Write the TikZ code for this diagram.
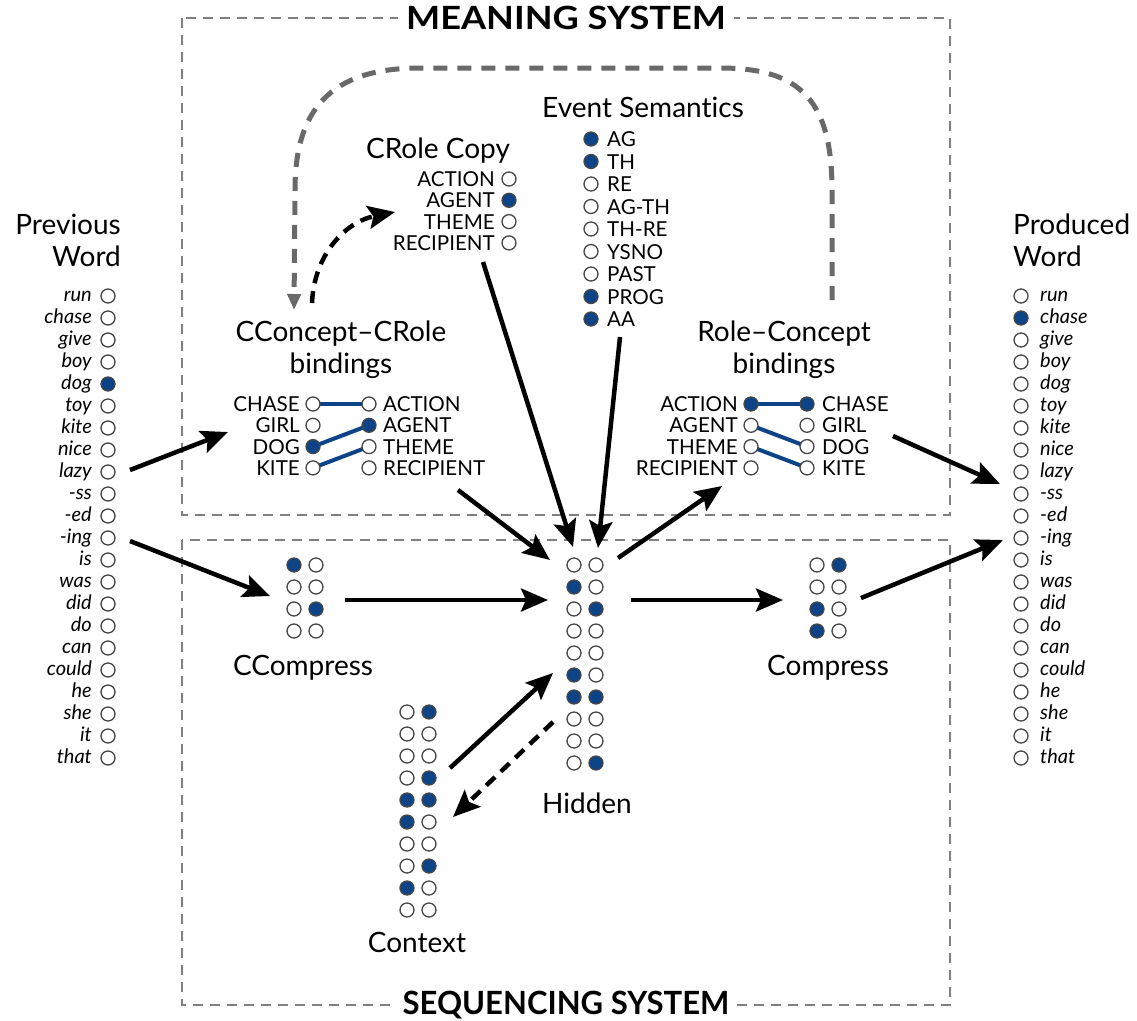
\documentclass[tikz,border=0pt]{standalone}
\usepackage{fontspec}
\setmainfont{Lato}[Ligatures=NoCommon]
\usetikzlibrary{arrows.meta}
\definecolor{unitblue}{RGB}{12,68,135}
\definecolor{boxgray}{RGB}{128,128,128}
\definecolor{loopgray}{RGB}{105,105,105}
\tikzset{
 unit/.style={circle,draw=black!72,line width=1.3pt,fill=white,minimum size=14pt,inner sep=0pt},
 on/.style={fill=unitblue},
 off/.style={},
 lbl/.style={inner sep=0pt,font=\fontsize{20.6}{24}\selectfont},
 wrd/.style={inner sep=0pt,font=\fontsize{20}{22}\selectfont\itshape},
 ttl/.style={inner sep=0pt,font=\fontsize{28}{32}\selectfont},
 sys/.style={draw=boxgray,line width=1.2pt,dash pattern=on 10pt off 7pt},
 systitle/.style={fill=white,inner xsep=8pt,inner ysep=1pt,font=\fontsize{32}{34}\selectfont\bfseries},
 bind/.style={draw=unitblue,line width=4pt},
 flow/.style={draw=black,line width=4.5pt,-{Stealth[length=27pt,width=23pt,inset=5pt]}},
 flowdash/.style={flow,dash pattern=on 12pt off 8pt},
 loopline/.style={draw=loopgray,line width=5pt,dash pattern=on 14pt off 10pt,-{Triangle[length=16pt,width=13pt]}},
}
\begin{document}
\begin{tikzpicture}[x=1pt,y=-1pt]
\useasboundingbox (0,0) rectangle (1137,1020);
\fill[white] (0,0) rectangle (1137,1020);

% system boxes
\draw[sys] (182,18) rectangle (950,515);
\draw[sys] (182,540) rectangle (950,1005);
\node[systitle,anchor=base] (meaning) at (566,29) {\scalebox{1.13}[1]{MEANING SYSTEM}};
\node[systitle,anchor=base] (sequencing) at (566,1014) {\scalebox{0.97}[1]{SEQUENCING SYSTEM}};

% Previous word
\node[ttl,align=right,anchor=north east] (pwtitle) at (121,214) {Previous\\Word};
\foreach \w/\s [count=\i] in {run/off,chase/off,give/off,boy/off,dog/on,toy/off,kite/off,nice/off,lazy/off,-ss/off,-ed/off,-ing/off,is/off,was/off,did/off,do/off,can/off,could/off,he/off,she/off,it/off,that/off}{
  \node[unit,\s] (pw-\i) at (108,{296+22*(\i-1)}) {};
  \node[wrd,anchor=mid east] (pwl-\i) at (92,{299+22*(\i-1)}) {\w};
}

% Produced word
\node[ttl,align=left,anchor=north west] (prtitle) at (1013,214) {Produced\\Word};
\foreach \w/\s [count=\i] in {run/off,chase/on,give/off,boy/off,dog/off,toy/off,kite/off,nice/off,lazy/off,-ss/off,-ed/off,-ing/off,is/off,was/off,did/off,do/off,can/off,could/off,he/off,she/off,it/off,that/off}{
  \node[unit,\s] (pr-\i) at (1021,{296+22*(\i-1)}) {};
  \node[wrd,anchor=mid west] (prl-\i) at (1040,{299+22*(\i-1)}) {\w};
}

% CRole Copy
\node[ttl,anchor=base] (crctitle) at (438,158) {CRole Copy};
\foreach \w/\s [count=\i] in {ACTION/off,AGENT/on,THEME/off,RECIPIENT/off}{
  \node[unit,\s] (crc-\i) at (509,{179+21.3*(\i-1)}) {};
  \node[lbl,anchor=base east] (crcl-\i) at (495,{186.5+21.3*(\i-1)}) {\w};
}

% Event Semantics
\node[ttl,anchor=base] (evtitle) at (643,117) {Event Semantics};
\foreach \w/\s [count=\i] in {AG/on,TH/on,RE/off,AG-TH/off,TH-RE/off,YSNO/off,PAST/off,PROG/on,AA/on}{
  \node[unit,\s] (ev-\i) at (591,{139+22.5*(\i-1)}) {};
  \node[lbl,anchor=base west] (evl-\i) at (607,{146.5+22.5*(\i-1)}) {\w};
}

% CConcept-CRole bindings
\node[ttl,align=center,anchor=north] (cbtitle) at (341,321) {CConcept–CRole\\bindings};
\foreach \w [count=\i] in {CHASE,GIRL,DOG,KITE}{
  \node[lbl,anchor=base east] (cbll-\i) at (300,{411.5+21.3*(\i-1)}) {\w};
}
\foreach \w [count=\i] in {ACTION,AGENT,THEME,RECIPIENT}{
  \node[lbl,anchor=base west] (cbrl-\i) at (383,{411.5+21.3*(\i-1)}) {\w};
}
\coordinate (cbl-1) at (313,404); \coordinate (cbl-3) at (313,446.6); \coordinate (cbl-4) at (313,467.9);
\coordinate (cbr-1) at (369,404); \coordinate (cbr-2) at (369,425.3); \coordinate (cbr-3) at (369,446.6);
\draw[bind] (cbl-1) -- (cbr-1);
\draw[bind] (cbl-3) -- (cbr-2);
\draw[bind] (cbl-4) -- (cbr-3);
\foreach \i/\s in {1/off,2/off,3/on,4/off}{\node[unit,\s] (cbu-l\i) at (313,{404+21.3*(\i-1)}) {};}
\foreach \i/\s in {1/off,2/on,3/off,4/off}{\node[unit,\s] (cbu-r\i) at (369,{404+21.3*(\i-1)}) {};}

% Role-Concept bindings
\node[ttl,align=center,anchor=north] (rctitle) at (784,321) {Role–Concept\\bindings};
\foreach \w [count=\i] in {ACTION,AGENT,THEME,RECIPIENT}{
  \node[lbl,anchor=base east] (rcll-\i) at (738,{411.5+21.3*(\i-1)}) {\w};
}
\foreach \w [count=\i] in {CHASE,GIRL,DOG,KITE}{
  \node[lbl,anchor=base west] (rcrl-\i) at (822,{411.5+21.3*(\i-1)}) {\w};
}
\coordinate (rcl-1) at (751,404); \coordinate (rcl-2) at (751,425.3); \coordinate (rcl-3) at (751,446.6);
\coordinate (rcr-1) at (807,404); \coordinate (rcr-3) at (807,446.6); \coordinate (rcr-4) at (807,467.9);
\draw[bind] (rcl-1) -- (rcr-1);
\draw[bind] (rcl-2) -- (rcr-3);
\draw[bind] (rcl-3) -- (rcr-4);
\foreach \i/\s in {1/on,2/off,3/off,4/off}{\node[unit,\s] (rcu-l\i) at (751,{404+21.3*(\i-1)}) {};}
\foreach \i/\s in {1/on,2/off,3/off,4/off}{\node[unit,\s] (rcu-r\i) at (807,{404+21.3*(\i-1)}) {};}

% Hidden
\foreach \a/\b [count=\r] in {off/off,on/off,off/on,off/off,off/off,on/off,on/on,off/off,off/off,off/on}{
  \node[unit,\a] (h-\r-a) at (574,{565+22*(\r-1)}) {};
  \node[unit,\b] (h-\r-b) at (596,{565+22*(\r-1)}) {};
}
\node[ttl,anchor=base] (htitle) at (587,813) {Hidden};

% CCompress
\foreach \a/\b [count=\r] in {on/off,off/off,off/on,off/off}{
  \node[unit,\a] (cc-\r-a) at (294,{565+22*(\r-1)}) {};
  \node[unit,\b] (cc-\r-b) at (316,{565+22*(\r-1)}) {};
}
\node[ttl,anchor=base] (cctitle) at (303,675) {CCompress};

% Compress
\foreach \a/\b [count=\r] in {off/on,off/off,on/off,on/off}{
  \node[unit,\a] (co-\r-a) at (817,{565+22*(\r-1)}) {};
  \node[unit,\b] (co-\r-b) at (839,{565+22*(\r-1)}) {};
}
\node[ttl,anchor=base] (cotitle) at (828,675) {Compress};

% Context
\foreach \a/\b [count=\r] in {off/on,off/off,off/off,off/on,on/on,on/off,off/off,off/on,on/off,off/off}{
  \node[unit,\a] (cx-\r-a) at (407,{712+22*(\r-1)}) {};
  \node[unit,\b] (cx-\r-b) at (429,{712+22*(\r-1)}) {};
}
\node[ttl,anchor=base] (cxtitle) at (417,952) {Context};

% connector end points
\coordinate (pw-o1) at (130,470);
\coordinate (cb-i) at (228,432);
\coordinate (pw-o2) at (130,541);
\coordinate (cc-i) at (270,596);
\coordinate (cc-o) at (345,600);
\coordinate (h-i1) at (548,600);
\coordinate (cb-o) at (458,490);
\coordinate (h-i2) at (550,560);
\coordinate (crc-o) at (483,262);
\coordinate (h-i3) at (573,547);
\coordinate (ev-o) at (620,337);
\coordinate (h-i4) at (598,548);
\coordinate (h-o1) at (618,558);
\coordinate (rc-i) at (722,486);
\coordinate (h-o2) at (631,600);
\coordinate (co-i) at (783,600);
\coordinate (co-o) at (861,598);
\coordinate (pr-i1) at (1003,540);
\coordinate (rc-o) at (893,436);
\coordinate (pr-i2) at (1000,484);
\coordinate (cx-o) at (450,768);
\coordinate (h-i5) at (553,673);
\coordinate (h-o3) at (553,722);
\coordinate (cx-i) at (453,817);
\coordinate (cb-up) at (312,303);
\coordinate (crc-i) at (395,212);
\coordinate (loop-s) at (832,300);
\coordinate (loop-e) at (294,310);

% connectors
\draw[flow] (pw-o1) -- (cb-i);
\draw[flow] (pw-o2) -- (cc-i);
\draw[flow] (cc-o) -- (h-i1);
\draw[flow] (cb-o) -- (h-i2);
\draw[flow] (crc-o) -- (h-i3);
\draw[flow] (ev-o) -- (h-i4);
\draw[flow] (h-o1) -- (rc-i);
\draw[flow] (h-o2) -- (co-i);
\draw[flow] (co-o) -- (pr-i1);
\draw[flow] (rc-o) -- (pr-i2);
\draw[flow] (cx-o) -- (h-i5);
\draw[flowdash] (h-o3) -- (cx-i);
\draw[flowdash] (cb-up) .. controls (314,255) and (345,222) .. (crc-i);
\draw[loopline] (loop-s) -- (832,190) .. controls (832,100) and (800,68) .. (720,68) -- (420,68) .. controls (330,68) and (295,110) .. (295,190) -- (loop-e);
\end{tikzpicture}
\end{document}
